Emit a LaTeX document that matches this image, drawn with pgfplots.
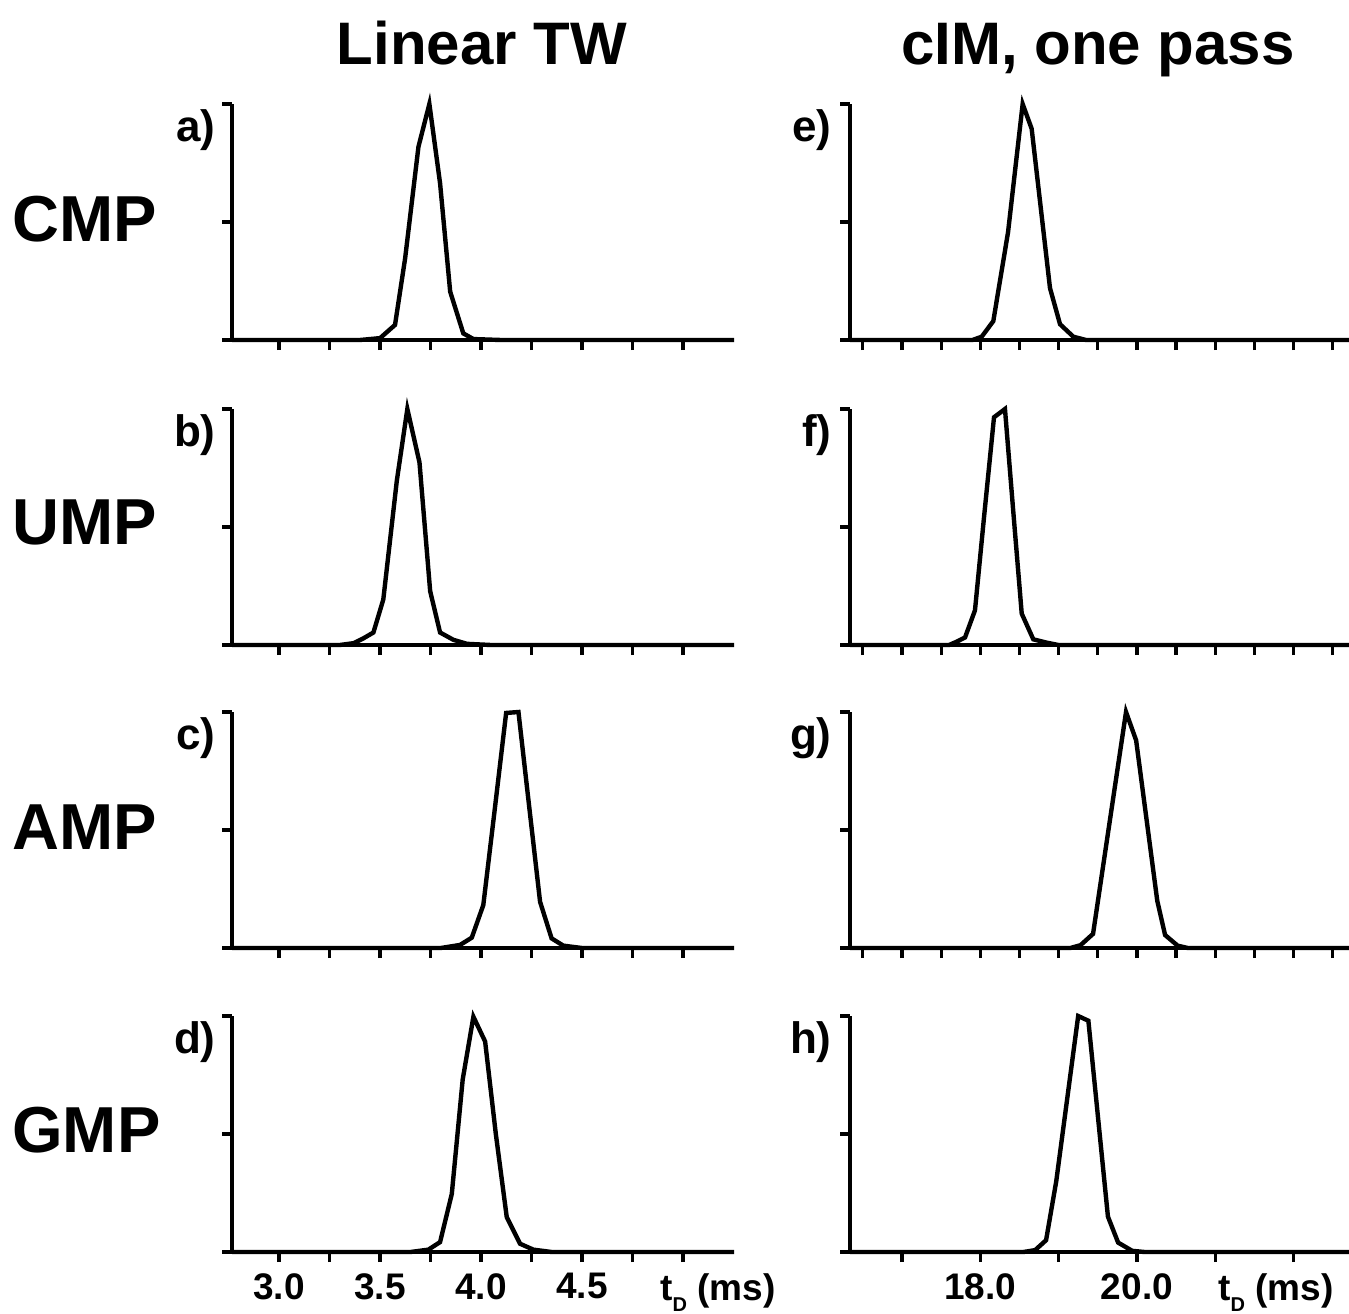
\documentclass[border=0pt]{standalone}
\usepackage{pgfplots}
\pgfplotsset{compat=1.18}
\usepackage{fontspec}
\setmainfont{Liberation Sans}

\pgfplotsset{
  every non boxed x axis/.style={},
  every non boxed y axis/.style={},
  panel/.style={
    scale only axis, width=251pt, height=118pt, anchor=south west,
    axis x line=bottom, axis y line=left,
    axis line style={line width=2.2pt, black, -},
    ymin=0, ymax=1, ytick={0,0.5,1}, yticklabels={},
    xtick align=outside, ytick align=outside,
    major tick length=5pt,
    tick style={black, line width=1.6pt},
    xticklabels={},
    clip=false,
    xticklabel style={font=\fontsize{18.5}{18.5}\selectfont\bfseries, inner sep=0pt, yshift=-5.5pt},
  },
  leftp/.style={panel, xmin=2.767, xmax=5.252, xtick={3,3.25,3.5,3.75,4,4.25,4.5,4.75,5}},
  rightp/.style={panel, xmin=16.336, xmax=22.747, xtick={16.5,17,17.5,18,18.5,19,19.5,20,20.5,21,21.5,22,22.5}},
  curve/.style={black, line width=2.2pt},
}

\pgfplotstableread{
x y
2.767 0
3.40 0
3.50 0.008
3.574 0.064
3.624 0.346
3.690 0.819
3.744 1.0
3.797 0.664
3.847 0.205
3.912 0.028
3.962 0.004
4.10 0
5.252 0
}\dataA
\pgfplotstableread{
x y
2.767 0
3.30 0
3.37 0.008
3.417 0.028
3.467 0.053
3.516 0.193
3.583 0.697
3.635 1.0
3.695 0.774
3.748 0.228
3.797 0.053
3.863 0.022
3.93 0.005
4.05 0
5.252 0
}\dataB
\pgfplotstableread{
x y
2.767 0
3.80 0
3.896 0.013
3.954 0.044
4.011 0.182
4.068 0.59
4.124 0.996
4.185 1.0
4.238 0.60
4.292 0.196
4.349 0.041
4.407 0.01
4.50 0
5.252 0
}\dataC
\pgfplotstableread{
x y
2.767 0
3.65 0
3.739 0.01
3.797 0.042
3.855 0.246
3.909 0.731
3.962 0.997
4.020 0.892
4.073 0.50
4.127 0.148
4.193 0.035
4.259 0.01
4.35 0
5.252 0
}\dataD
\pgfplotstableread{
x y
16.336 0
17.90 0
18.018 0.014
18.166 0.08
18.354 0.456
18.541 1.0
18.656 0.895
18.89 0.22
19.018 0.067
19.188 0.014
19.35 0
22.747 0
}\dataE
\pgfplotstableread{
x y
16.336 0
17.60 0
17.699 0.014
17.805 0.032
17.932 0.147
18.05 0.55
18.175 0.965
18.315 1.0
18.42 0.57
18.529 0.133
18.677 0.024
18.848 0.01
19.0 0
22.747 0
}\dataF
\pgfplotstableread{
x y
16.336 0
19.15 0
19.28 0.012
19.44 0.06
19.65 0.53
19.861 1.0
19.99 0.88
20.26 0.2
20.36 0.055
20.52 0.01
20.65 0
22.747 0
}\dataG
\pgfplotstableread{
x y
16.336 0
18.55 0
18.70 0.008
18.84 0.05
18.97 0.30
19.25 1.0
19.38 0.98
19.63 0.15
19.76 0.04
19.94 0.005
20.1 0
22.747 0
}\dataH

\begin{document}
\begin{tikzpicture}
\path[use as bounding box] (0pt,0pt) rectangle (674.5pt,-656.5pt);

% left column
\begin{axis}[leftp, at={(116pt,-170pt)}]
\addplot[curve] table[x=x,y=y] {\dataA};
\end{axis}
\begin{axis}[leftp, at={(116pt,-322.5pt)}]
\addplot[curve] table[x=x,y=y] {\dataB};
\end{axis}
\begin{axis}[leftp, at={(116pt,-474pt)}]
\addplot[curve] table[x=x,y=y] {\dataC};
\end{axis}
\begin{axis}[leftp, at={(116pt,-626pt)}, xticklabels={3.0,,3.5,,4.0,,4.5,,}]
\addplot[curve] table[x=x,y=y] {\dataD};
\end{axis}

% right column
\begin{axis}[rightp, at={(425pt,-170pt)}]
\addplot[curve] table[x=x,y=y] {\dataE};
\end{axis}
\begin{axis}[rightp, at={(425pt,-322.5pt)}]
\addplot[curve] table[x=x,y=y] {\dataF};
\end{axis}
\begin{axis}[rightp, at={(425pt,-474pt)}]
\addplot[curve] table[x=x,y=y] {\dataG};
\end{axis}
\begin{axis}[rightp, at={(425pt,-626pt)}, xtick={17,18,19,20,21,22}, xticklabels={,18.0,,20.0,,}]
\addplot[curve] table[x=x,y=y] {\dataH};
\end{axis}

% titles
\node[anchor=base, inner sep=0, font=\fontsize{30}{30}\selectfont\bfseries] at (241pt,-32pt) {Linear TW};
\node[anchor=base, inner sep=0, font=\fontsize{30}{30}\selectfont\bfseries] at (549pt,-32pt) {cIM, one pass};

% row labels
\begin{scope}[every node/.style={anchor=base west, inner sep=0, font=\fontsize{32.5}{32.5}\selectfont\bfseries}]
\node at (6pt,-120.5pt) {CMP};
\node at (6pt,-272pt) {UMP};
\node at (6pt,-424.5pt) {AMP};
\node at (6pt,-576pt) {GMP};
\end{scope}

% panel letters
\begin{scope}[every node/.style={anchor=base east, inner sep=0, font=\fontsize{22}{22}\selectfont\bfseries}]
\node at (108pt,-70.5pt) {a)};
\node at (108pt,-223pt) {b)};
\node at (108pt,-374.5pt) {c)};
\node at (108pt,-526.5pt) {d)};
\node at (416pt,-70.5pt) {e)};
\node at (416pt,-223pt) {f)};
\node at (416pt,-374.5pt) {g)};
\node at (416pt,-526.5pt) {h)};
\end{scope}

% x-axis labels
\begin{scope}[every node/.style={anchor=base west, inner sep=0, font=\fontsize{18.5}{18.5}\selectfont\bfseries}]
\node at (330pt,-650pt) {t\raisebox{-5.5pt}{\fontsize{10}{10}\selectfont D} (ms)};
\node at (609pt,-650pt) {t\raisebox{-5.5pt}{\fontsize{10}{10}\selectfont D} (ms)};
\end{scope}
\end{tikzpicture}
\end{document}
